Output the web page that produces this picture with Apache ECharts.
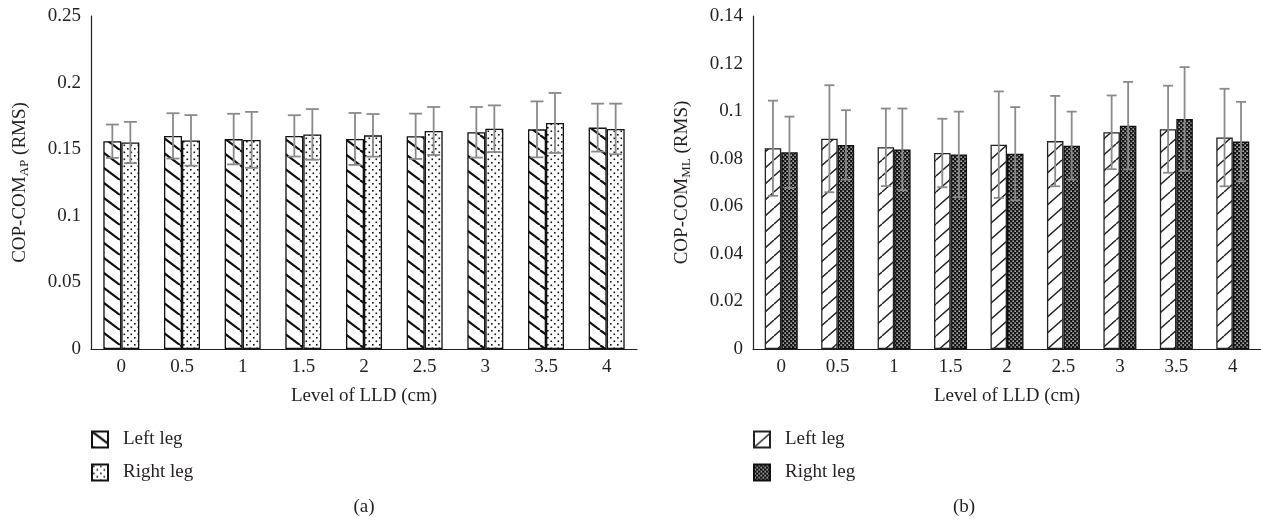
<!DOCTYPE html>
<html>
<head>
<meta charset="utf-8">
<script src="https://cdn.jsdelivr.net/npm/echarts@6/dist/echarts.min.js"></script>
<style>
  html, body { margin: 0; padding: 0; background: #fff; }
  #chart { width: 1261px; height: 522px; }
</style>
</head>
<body>
<div id="chart"></div>
<script>
// ---------- data ----------
const categories = ['0', '0.5', '1', '1.5', '2', '2.5', '3', '3.5', '4'];
const seriesNames = ['Left leg', 'Right leg'];

// (a) COP-COM AP
const apLeftMean  = [0.156, 0.160, 0.1576, 0.160, 0.1577, 0.1597, 0.1627, 0.1649, 0.1662];
const apLeftSd    = [0.0125, 0.017, 0.019, 0.0155, 0.0195, 0.017, 0.019, 0.021, 0.018];
const apRightMean = [0.155, 0.1566, 0.157, 0.1611, 0.1604, 0.1637, 0.1654, 0.1697, 0.1652];
const apRightSd   = [0.0155, 0.019, 0.021, 0.019, 0.016, 0.018, 0.0175, 0.0225, 0.019];
const apTicks = [0, 0.05, 0.1, 0.15, 0.2, 0.25];

// (b) COP-COM ML
const mlLeftMean  = [0.0844, 0.0884, 0.0848, 0.0824, 0.0859, 0.0874, 0.0911, 0.0924, 0.0889];
const mlLeftSd    = [0.020, 0.0225, 0.0163, 0.0144, 0.0224, 0.019, 0.0155, 0.0183, 0.0205];
const mlRightMean = [0.0827, 0.0858, 0.0839, 0.0818, 0.0821, 0.0855, 0.0939, 0.0967, 0.0872];
const mlRightSd   = [0.015, 0.0146, 0.0172, 0.018, 0.0196, 0.0143, 0.0184, 0.0218, 0.0167];
const mlTicks = [0, 0.02, 0.04, 0.06, 0.08, 0.1, 0.12, 0.14];

// ---------- styling ----------
const FONT = '"Liberation Serif", "DejaVu Serif", serif';
const TXT = '#231f20';
const FS = 19;

function makeCanvas(w, h, draw) {
  const c = document.createElement('canvas');
  c.width = w; c.height = h;
  const ctx = c.getContext('2d');
  draw(ctx, w, h);
  return c;
}
// "\" hatch, thick
const patBack = makeCanvas(20, 15, (ctx, w, h) => {
  ctx.fillStyle = '#fff'; ctx.fillRect(0, 0, w, h);
  ctx.strokeStyle = '#111'; ctx.lineWidth = 2.2;
  ctx.beginPath();
  for (let k = -1; k <= 1; k++) {
    ctx.moveTo(k * w, 0); ctx.lineTo(k * w + w, h);
  }
  ctx.stroke();
});
// dots
const patDots = makeCanvas(7, 7, (ctx, w, h) => {
  ctx.fillStyle = '#fff'; ctx.fillRect(0, 0, w, h);
  ctx.fillStyle = '#111';
  ctx.fillRect(1, 1, 1.6, 1.6);
  ctx.fillRect(4.5, 4.5, 1.6, 1.6);
});
// "/" hatch, thin
const patFwd = makeCanvas(18, 16, (ctx, w, h) => {
  ctx.fillStyle = '#fff'; ctx.fillRect(0, 0, w, h);
  ctx.strokeStyle = '#222'; ctx.lineWidth = 1.4;
  ctx.beginPath();
  for (let k = -1; k <= 1; k++) {
    ctx.moveTo(k * w, h); ctx.lineTo(k * w + w, 0);
  }
  ctx.stroke();
});
// dark checker
const patDark = makeCanvas(4, 4, (ctx, w, h) => {
  ctx.fillStyle = '#141414'; ctx.fillRect(0, 0, w, h);
  ctx.fillStyle = '#fff';
  ctx.fillRect(0.5, 0.5, 1.3, 1.3);
  ctx.fillRect(2.5, 2.5, 1.3, 1.3);
});
const pattern = c => ({ image: c, repeat: 'repeat' });

// ---------- helpers ----------
function yName(main, sub) {
  return '{m|' + main + '}{s|' + sub + '}{m| (RMS)}';
}
const nameRich = {
  m: { fontSize: FS, fontFamily: FONT, color: TXT, lineHeight: 20, verticalAlign: 'top' },
  s: { fontSize: 13, fontFamily: FONT, color: TXT, lineHeight: 13, verticalAlign: 'bottom', padding: [10, 0, 0, 0] }
};
function fmt(v) { return String(+(+v).toFixed(3)); }

function errorSeries(name, gridIdx, means, sds, offset, capHalf) {
  return {
    name: name + ' err',
    type: 'custom',
    xAxisIndex: gridIdx, yAxisIndex: gridIdx,
    z: 10,
    silent: true,
    encode: { x: 0, y: 1 },
    data: means.map((m, i) => [i, m, sds[i]]),
    renderItem: function (params, api) {
      const i = api.value(0), m = api.value(1), s = api.value(2);
      const top = api.coord([i, m + s]);
      const bot = api.coord([i, m - s]);
      const x = top[0] + offset;
      const st = { stroke: '#8a8a8a', lineWidth: 1.8 };
      return {
        type: 'group',
        children: [
          { type: 'line', shape: { x1: x, y1: top[1], x2: x, y2: bot[1] }, style: st },
          { type: 'line', shape: { x1: x - capHalf, y1: top[1], x2: x + capHalf, y2: top[1] }, style: st },
          { type: 'line', shape: { x1: x - capHalf, y1: bot[1], x2: x + capHalf, y2: bot[1] }, style: st }
        ]
      };
    }
  };
}

function xAxisCfg(gridIdx) {
  return {
    type: 'category', gridIndex: gridIdx, data: categories,
    axisLine: { lineStyle: { color: '#231f20', width: 1.2 } },
    axisTick: { show: false },
    axisLabel: { fontSize: FS, fontFamily: FONT, color: TXT, margin: 9 },
    name: 'Level of LLD (cm)', nameLocation: 'middle', nameGap: 38,
    nameTextStyle: { fontSize: FS, fontFamily: FONT, color: TXT }
  };
}
function yAxisCfg(gridIdx, ticks, name) {
  return {
    type: 'value', gridIndex: gridIdx,
    min: ticks[0], max: ticks[ticks.length - 1], interval: ticks[1] - ticks[0],
    axisLine: { show: true, lineStyle: { color: '#231f20', width: 1.2 } },
    axisTick: { show: false },
    splitLine: { show: false },
    axisLabel: { fontSize: FS, fontFamily: FONT, color: TXT, margin: 10, formatter: fmt },
    name: name, nameLocation: 'middle', nameGap: 60, nameRotate: 90,
    nameTextStyle: { rich: nameRich }
  };
}

const BW_A = 18, BW_B = 16.5;

function legendCfg(tag, left) {
  return {
    data: [seriesNames[0] + ' (' + tag + ')', seriesNames[1] + ' (' + tag + ')'],
    orient: 'vertical', left: left, top: 430, padding: 0,
    itemWidth: 16, itemHeight: 16, itemGap: 14, icon: 'rect',
    selectedMode: false,
    formatter: n => n.replace(/ \(.\)$/, ''),
    textStyle: { fontSize: FS, fontFamily: FONT, color: TXT, padding: [0, 0, 0, 10] }
  };
}

const option = {
  animation: false,
  backgroundColor: '#fff',
  grid: [
    { left: 91, right: 624, top: 16, bottom: 173, containLabel: false },
    { left: 753, right: 0, top: 16, bottom: 173, containLabel: false }
  ],
  xAxis: [xAxisCfg(0), xAxisCfg(1)],
  yAxis: [
    yAxisCfg(0, apTicks, yName('COP-COM', 'AP')),
    yAxisCfg(1, mlTicks, yName('COP-COM', 'ML'))
  ],
  legend: [legendCfg('a', 91), legendCfg('b', 753)],
  graphic: [
    { type: 'text', x: 364, y: 507, style: { text: '(a)', align: 'center', verticalAlign: 'middle', fontSize: FS, fontFamily: FONT, fill: TXT } },
    { type: 'text', x: 964, y: 507, style: { text: '(b)', align: 'center', verticalAlign: 'middle', fontSize: FS, fontFamily: FONT, fill: TXT } }
  ],
  series: [
    {
      name: seriesNames[0] + ' (a)', type: 'bar', xAxisIndex: 0, yAxisIndex: 0,
      barWidth: BW_A, barGap: '0%', data: apLeftMean,
      itemStyle: { color: pattern(patBack), borderColor: '#111', borderWidth: 1.3 }
    },
    {
      name: seriesNames[1] + ' (a)', type: 'bar', xAxisIndex: 0, yAxisIndex: 0,
      barWidth: BW_A, barGap: '0%', data: apRightMean,
      itemStyle: { color: pattern(patDots), borderColor: '#111', borderWidth: 1.3 }
    },
    {
      name: seriesNames[0] + ' (b)', type: 'bar', xAxisIndex: 1, yAxisIndex: 1,
      barWidth: BW_B, barGap: '0%', data: mlLeftMean,
      itemStyle: { color: pattern(patFwd), borderColor: '#222', borderWidth: 1.3 }
    },
    {
      name: seriesNames[1] + ' (b)', type: 'bar', xAxisIndex: 1, yAxisIndex: 1,
      barWidth: BW_B, barGap: '0%', data: mlRightMean,
      itemStyle: { color: pattern(patDark), borderColor: '#111', borderWidth: 1.3 }
    },
    errorSeries('Left leg (a)', 0, apLeftMean, apLeftSd, -BW_A / 2, 6.5),
    errorSeries('Right leg (a)', 0, apRightMean, apRightSd, BW_A / 2, 6.5),
    errorSeries('Left leg (b)', 1, mlLeftMean, mlLeftSd, -BW_B / 2, 5),
    errorSeries('Right leg (b)', 1, mlRightMean, mlRightSd, BW_B / 2, 5)
  ]
};

const chart = echarts.init(document.getElementById('chart'), null, { renderer: 'canvas' });
chart.setOption(option);
</script>
</body>
</html>
